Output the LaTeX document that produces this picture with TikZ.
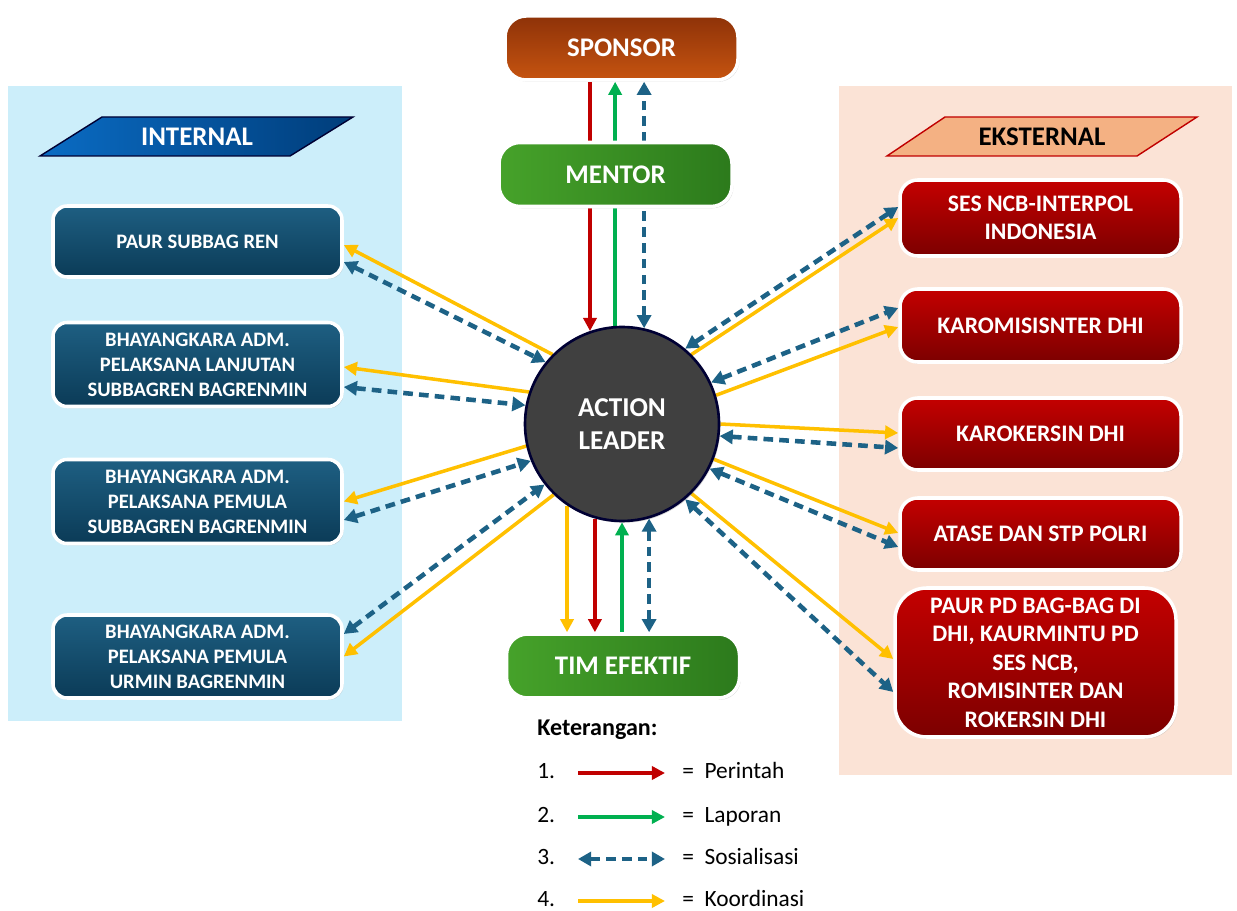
\documentclass[tikz,border=0pt]{standalone}
\usepackage{fontspec}
\setmainfont{Carlito}
\usetikzlibrary{arrows.meta,calc,shadows}

\definecolor{intbg}{HTML}{CCEEFA}
\definecolor{extbg}{HTML}{FBE3D6}
\definecolor{cred}{HTML}{C00000}
\definecolor{cgreen}{HTML}{00B050}
\definecolor{cblue}{HTML}{1D6286}
\definecolor{cyellow}{HTML}{FFC000}
\definecolor{inA}{HTML}{1E5F82}
\definecolor{inB}{HTML}{0B3B57}
\definecolor{exA}{HTML}{C40000}
\definecolor{exB}{HTML}{7C0000}
\definecolor{grA}{HTML}{46A22A}
\definecolor{grB}{HTML}{2C7A1C}
\definecolor{spA}{HTML}{8E3208}
\definecolor{spB}{HTML}{C65410}
\definecolor{parA}{HTML}{0A6CC4}
\definecolor{parB}{HTML}{003D7A}
\definecolor{salmon}{HTML}{F4B183}

\newcommand{\px}{0.02cm}

\pgfdeclarelayer{panel}
\pgfdeclarelayer{lines}
\pgfsetlayers{panel,lines,main}

\tikzset{
  boxbase/.style={draw=white, line width=2pt, text=white, align=center, inner sep=0pt,
    drop shadow={opacity=0.3, shadow xshift=0.8pt, shadow yshift=-1pt}},
  topbox/.style={boxbase, rounded corners=12pt, minimum width=233*\px, minimum height=64*\px,
    font=\fontsize{15.3}{18}\selectfont\bfseries},
  inbox/.style={boxbase, rounded corners=8pt, minimum width=289*\px, minimum height=84*\px,
    top color=inA, bottom color=inB, font=\fontsize{11.7}{14.2}\selectfont\bfseries},
  exbox/.style={boxbase, rounded corners=10pt, minimum width=281*\px, minimum height=73*\px,
    top color=exA, bottom color=exB, font=\fontsize{13.5}{16.2}\selectfont\bfseries},
  leader/.style={circle, minimum size=194*\px, inner sep=0pt, fill=black!75, draw=black!80!blue,
    line width=1.5pt, text=white, align=center, font=\fontsize{15.5}{18.5}\selectfont\bfseries,
    drop shadow={opacity=0.35, shadow xshift=0.8pt, shadow yshift=-1pt}},
  partext/.style={font=\fontsize{15.3}{18}\selectfont\bfseries, inner sep=0pt},
  legtxt/.style={anchor=base west, inner sep=0pt, font=\fontsize{13.3}{16}\selectfont},
  perintah/.style={draw=cred, line width=2pt, -{Triangle[length=7.5pt,width=7.5pt]}},
  laporan/.style={draw=cgreen, line width=2pt, -{Triangle[length=7.5pt,width=7.5pt]}},
  koord/.style={draw=cyellow, line width=2pt, -{Triangle[length=7.5pt,width=7.5pt]}},
  sosial/.style={draw=cblue, line width=2.6pt, dash pattern=on 5.5pt off 3.5pt,
    {Triangle[length=7.5pt,width=8pt]}-{Triangle[length=7.5pt,width=8pt]}},
}

\begin{document}
\begin{tikzpicture}[x=\px, y=-\px]
\useasboundingbox (0,0) rectangle (1237,911);

% side panels
\begin{pgfonlayer}{panel}
\fill[intbg] (8,86) rectangle (402,721);
\fill[extbg] (839,86) rectangle (1232,775);
\end{pgfonlayer}

% headings
\draw[left color=parA, right color=parB, draw=black!80!blue, line width=0.8pt]
  (40,156) -- (102,117) -- (353,117) -- (290,156) -- cycle;
\node[partext, text=white] (int) at (197,137) {INTERNAL};
\draw[fill=salmon, draw=cred, line width=0.8pt]
  (887,156) -- (945,117) -- (1197,117) -- (1137,156) -- cycle;
\node[partext] (ext) at (1042,137) {EKSTERNAL};

% top and bottom
\node[topbox, top color=spA, bottom color=spB] (sp) at (621.5,48) {SPONSOR};
\node[topbox, left color=grA, right color=grB] (mt) at (615.5,174.5) {MENTOR};
\node[topbox, left color=grA, right color=grB] (te) at (623,666) {TIM EFEKTIF};

\node[leader] (al) at (622,424) {ACTION\\LEADER};

% internal
\node[inbox, minimum height=71*\px] (in1) at (197.5,241.5) {PAUR SUBBAG REN};
\node[inbox] (in2) at (197.5,364.5) {BHAYANGKARA ADM.\\PELAKSANA LANJUTAN\\SUBBAGREN BAGRENMIN};
\node[inbox] (in3) at (197.5,501.5) {BHAYANGKARA ADM.\\PELAKSANA PEMULA\\SUBBAGREN BAGRENMIN};
\node[inbox, minimum height=83*\px] (in4) at (197.5,656.5) {BHAYANGKARA ADM.\\PELAKSANA PEMULA\\URMIN BAGRENMIN};

% eksternal
\node[exbox, minimum height=76*\px] (ex1) at (1040.5,218) {SES NCB-INTERPOL\\INDONESIA};
\node[exbox] (ex2) at (1040.5,325.5) {KAROMISISNTER DHI};
\node[exbox, minimum height=72*\px] (ex3) at (1040.5,434) {KAROKERSIN DHI};
\node[exbox, minimum height=72*\px] (ex4) at (1040.5,534) {ATASE DAN STP POLRI};
\node[exbox, rounded corners=18pt, minimum height=149*\px] (ex5) at (1035.5,662.5)
  {PAUR PD BAG-BAG DI\\DHI, KAURMINTU PD\\SES NCB,\\ROMISINTER DAN\\ROKERSIN DHI};

\begin{pgfonlayer}{lines}
% sponsor - leader
\draw[perintah] (sp.south -| al.109) -- (al.109);
\draw[laporan] (al.94) -- (al.94 |- sp.south);
\draw[sosial] (al.77) -- (al.77 |- sp.south);
% leader - tim efektif
\draw[koord] (al.236) -- (al.236 |- te.north);
\draw[perintah] (al.254) -- (al.254 |- te.north);
\draw[laporan] (te.north -| al.270) -- (al.270);
\draw[sosial] (al.286) -- (al.286 |- te.north);
% internal
\draw[koord] (al.135) -- ($(in1.east)+(0,3.5)$);
\draw[sosial] ($(in1.east)+(0,20.5)$) -- (al.141);
\draw[koord] (al.161) -- ($(in2.east)+(0,2.5)$);
\draw[sosial] ($(in2.east)+(0,22.5)$) -- (al.169);
\draw[koord] (al.193) -- (in3.east);
\draw[sosial] ($(in3.east)+(0,18.5)$) -- (al.202);
\draw[sosial] ($(in4.east)+(0,-22.5)$) -- (al.218);
\draw[koord] (al.226) -- (in4.east);
% eksternal
\draw[sosial] (al.50) -- ($(ex1.west)+(0,-11)$);
\draw[koord] (al.45) -- (ex1.west);
\draw[sosial] (al.25) -- ($(ex2.west)+(0,-17.5)$);
\draw[koord] (al.17) -- ($(ex2.west)+(0,1.5)$);
\draw[koord] (al.0) -- ($(ex3.west)+(0,-1)$);
\draw[sosial] (al.-7) -- ($(ex3.west)+(0,14)$);
\draw[koord] (al.-21) -- ($(ex4.west)+(0,-1)$);
\draw[sosial] (al.-27) -- ($(ex4.west)+(0,13)$);
\draw[koord] (al.-45) -- ($(ex5.west)+(0,-3.5)$);
\draw[sosial] (al.-50) -- ($(ex5.west)+(0,29.5)$);
\end{pgfonlayer}

% keterangan
\node[legtxt, font=\fontsize{13.7}{16}\selectfont\bfseries] (ket) at (537,735) {Keterangan:};
\foreach \i/\y/\st/\lbl in {1/771/perintah/Perintah, 2/815/laporan/Laporan,
    3/857/sosial/Sosialisasi, 4/899/koord/Koordinasi} {
  \node[legtxt] (num\i) at (537,\y+7.5) {\i.};
  \node[legtxt] (lbl\i) at (682,\y+7.5) {=~~\lbl};
  \coordinate (s\i) at (578,\y+2);
  \coordinate (e\i) at (665,\y+2);
  \draw[\st] (s\i) -- (e\i);
}
\end{tikzpicture}
\end{document}
